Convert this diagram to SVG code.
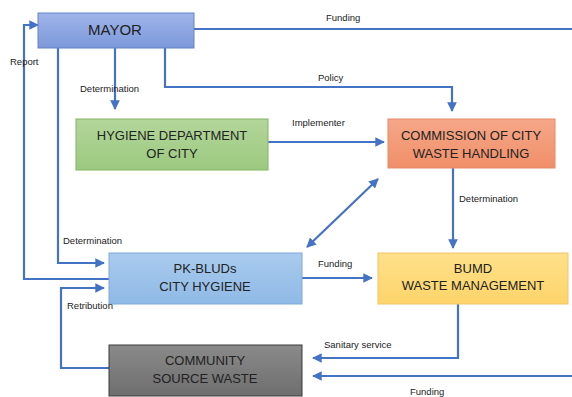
<svg xmlns="http://www.w3.org/2000/svg" width="572" height="397" viewBox="0 0 572 397">
<defs>
<linearGradient id="gMayor" x1="0" y1="0" x2="0" y2="1"><stop offset="0" stop-color="#9fb5ea"/><stop offset="1" stop-color="#7d98da"/></linearGradient>
<linearGradient id="gHyg" x1="0" y1="0" x2="0" y2="1"><stop offset="0" stop-color="#b3d69b"/><stop offset="1" stop-color="#9cc97f"/></linearGradient>
<linearGradient id="gCom" x1="0" y1="0" x2="0" y2="1"><stop offset="0" stop-color="#f6a789"/><stop offset="1" stop-color="#f08f68"/></linearGradient>
<linearGradient id="gPk" x1="0" y1="0" x2="0" y2="1"><stop offset="0" stop-color="#a9cbee"/><stop offset="1" stop-color="#8fb9e6"/></linearGradient>
<linearGradient id="gBumd" x1="0" y1="0" x2="0" y2="1"><stop offset="0" stop-color="#ffe08a"/><stop offset="1" stop-color="#fdd46a"/></linearGradient>
<linearGradient id="gCommu" x1="0" y1="0" x2="0" y2="1"><stop offset="0" stop-color="#8a8a8a"/><stop offset="1" stop-color="#6e6e6e"/></linearGradient>
<marker id="ah" viewBox="0 0 10 10" refX="9" refY="5" markerWidth="4.4" markerHeight="4.4" orient="auto-start-reverse" markerUnits="strokeWidth">
<path d="M0,0 L10,5 L0,10 z" fill="#4472c4"/>
</marker>
</defs>
<style>
.node text{font-family:"Liberation Sans",Arial,sans-serif;font-size:13px;fill:#222;text-anchor:middle}
.lbl{font-family:"Liberation Sans",Arial,sans-serif;font-size:9.5px;fill:#222}
.c path{fill:none;stroke:#4472c4;stroke-width:2.2}
.arr{marker-end:url(#ah)}
</style>
<rect width="572" height="397" fill="#fff"/>
<g class="c" id="connectors">
<path d="M194,29 H572"/>
<path class="arr" d="M572,376 H313"/>
<path class="arr" d="M110,279 H24 V25 H38"/>
<path class="arr" d="M58,48 V263 H104"/>
<path class="arr" d="M115,48 V109"/>
<path class="arr" d="M165,48 V87 H452 V111"/>
<path class="arr" d="M268,142 H384"/>
<path class="arr" d="M453,168 V248"/>
<path class="arr" d="M307,247 L378,179" style="marker-start:url(#ah)"/>
<path class="arr" d="M302,278 H372"/>
<path class="arr" d="M110,368 H61 V288 H104"/>
<path class="arr" d="M458,304 V358 H313"/>
</g>
<g id="mayor" class="node"><rect x="38" y="13" width="156" height="35" fill="url(#gMayor)" stroke="#6583c9" stroke-width="1"/><text x="115" y="35" style="font-size:15px">MAYOR</text></g>
<g id="hygiene" class="node"><rect x="76" y="119" width="192" height="51" fill="url(#gHyg)" stroke="#82b464" stroke-width="1"/><text x="172" y="140">HYGIENE DEPARTMENT</text><text x="172" y="158">OF CITY</text></g>
<g id="commission" class="node"><rect x="388" y="119" width="167" height="49" fill="url(#gCom)" stroke="#e58a66" stroke-width="1"/><text x="471" y="140">COMMISSION OF CITY</text><text x="471" y="158">WASTE HANDLING</text></g>
<g id="pkbluds" class="node"><rect x="109" y="253" width="193" height="51" fill="url(#gPk)" stroke="#7eaadc" stroke-width="1"/><text x="205" y="273">PK-BLUDs</text><text x="205" y="291">CITY HYGIENE</text></g>
<g id="bumd" class="node"><rect x="378" y="253" width="190" height="51" fill="url(#gBumd)" stroke="#f2c46a" stroke-width="1"/><text x="473" y="273">BUMD</text><text x="473" y="290">WASTE MANAGEMENT</text></g>
<g id="community" class="node"><rect x="109" y="345" width="193" height="51" fill="url(#gCommu)" stroke="#3a3a3a" stroke-width="1"/><text x="205" y="365">COMMUNITY</text><text x="205" y="383">SOURCE WASTE</text></g>
<g id="labels">
<text class="lbl" x="326" y="21">Funding</text>
<text class="lbl" x="10" y="65">Report</text>
<text class="lbl" x="80" y="92">Determination</text>
<text class="lbl" x="318" y="81">Policy</text>
<text class="lbl" x="292" y="126">Implementer</text>
<text class="lbl" x="459" y="202">Determination</text>
<text class="lbl" x="63" y="244">Determination</text>
<text class="lbl" x="318" y="267">Funding</text>
<text class="lbl" x="67" y="309">Retribution</text>
<text class="lbl" x="324" y="348">Sanitary service</text>
<text class="lbl" x="410" y="395">Funding</text>
</g>
</svg>
